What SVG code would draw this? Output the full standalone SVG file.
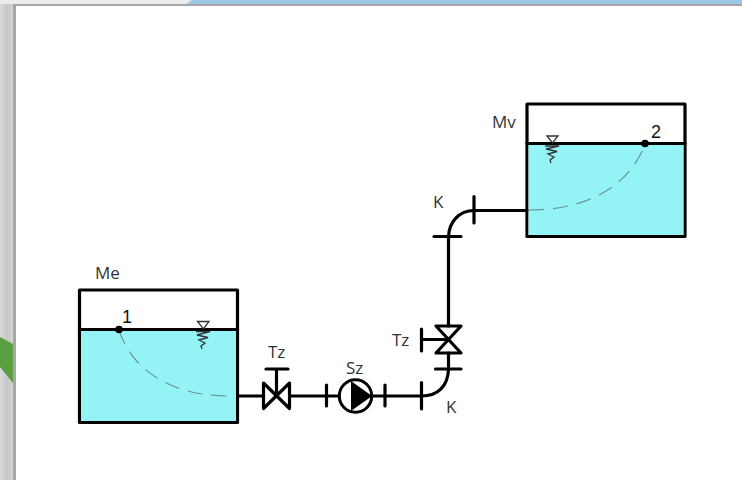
<svg xmlns="http://www.w3.org/2000/svg" width="742" height="480" viewBox="0 0 742 480">
<defs>
<style>
.ln{fill:none;stroke:#000;stroke-width:3.200;stroke-linecap:round;stroke-linejoin:round}
.tank{fill:#fff;stroke:#000;stroke-width:3.200;stroke-linejoin:round}
.water{fill:#94f3f5}
.dash{fill:none;stroke:#6f9499;stroke-width:1.200;stroke-dasharray:15 9}
.sym{fill:none;stroke:#333;stroke-width:1.300}
.t{font-family:"Open Sans","Liberation Sans",sans-serif;font-size:17px;fill:#333}
.n{font-family:"Liberation Sans",sans-serif;font-size:18px;fill:#111}
</style>
<linearGradient id="side" x1="0" y1="0" x2="1" y2="0"><stop offset="0" stop-color="#dadada"/><stop offset="0.5" stop-color="#c8c8c8"/><stop offset="1" stop-color="#d4d4d4"/></linearGradient>
</defs>
<g id="backdrop">
<rect x="0" y="0" width="742" height="480" fill="#fff"/>
<rect x="0" y="0" width="14" height="480" fill="url(#side)"/>
<rect x="0" y="0" width="742" height="4" fill="#ececec"/>
<polygon points="186,4 192,0 742,0 742,4" fill="#9cc9e6"/>
<polygon points="0,337 13,344 13,383 0,367" fill="#5aa040"/>
<rect x="13" y="4" width="729" height="2" fill="#a6a6a6"/>
<rect x="13" y="4" width="3" height="476" fill="#a6a6a6"/>
</g>
<g id="tank-me">
<rect class="tank" x="79.500" y="290" width="158" height="132.500"/>
<rect class="water" x="81" y="330" width="155" height="91"/>
<path class="ln" d="M79.500 329.500H237.500"/>
<path class="dash" d="M119 330C130 365 165 396 229 396"/>
<circle cx="119" cy="329.500" r="3.800" fill="#000"/>
<path class="sym" d="M197.500 321.500H209L203.500 329Z"/>
<path class="sym" d="M196 331.500H210L197 335L208 337.500L199 340L205 343L201 346L202 349"/>
<text class="t" x="95" y="279">Me</text>
<text class="n" x="122" y="322.500">1</text>
</g>
<g id="tank-mv">
<rect class="tank" x="527" y="104" width="158" height="132.500"/>
<rect class="water" x="528.500" y="144.500" width="155" height="90.500"/>
<path class="ln" d="M527 143.500H685"/>
<path class="dash" d="M529 210C595 210 632 180 645 144"/>
<circle cx="645" cy="143.500" r="3.800" fill="#000"/>
<path class="sym" d="M547 136H558L552.500 143Z"/>
<path class="sym" d="M545 146H559L546 149L557 151.500L548 154L554 157L550 160L551 163"/>
<text class="t" x="492" y="128">Mv</text>
<text class="n" x="651" y="137.500">2</text>
</g>
<g id="valve-1">
<path class="ln" d="M263.500 383L289.500 408.500V383L263.500 408.500Z"/>
<path class="ln" d="M276.500 395.500V369M266 369H288"/>
<text class="t" x="268" y="358">Tz</text>
</g>
<g id="pump">
<circle cx="355.500" cy="396" r="16.200" fill="#fff" stroke="#000" stroke-width="3"/>
<path d="M351 381L372 396L351 411Z" fill="#000"/>
<text class="t" x="346" y="373.500">Sz</text>
</g>
<g id="valve-2">
<path class="ln" d="M436 326H461L436 353H461Z"/>
<path class="ln" d="M448.500 339.500H421.500M421.500 329V351"/>
<text class="t" x="392" y="346">Tz</text>
</g>
<g id="elbow-1">
<path class="ln" d="M421.500 382.500V409M435.500 369H461"/>
<text class="t" x="446" y="412.500">K</text>
</g>
<g id="elbow-2">
<path class="ln" d="M434 236.500H461M474 196.500V223"/>
<text class="t" x="433" y="207.500">K</text>
</g>
<g id="connectors">
<path class="ln" d="M237.500 396H263.500M289.500 396H339M371.500 396H421.500C438 396 448 386 448.500 369V353M326.500 385V406M385 385V406M448.500 326V237C449 222 459 210.500 474 210.500H527"/>
</g>
</svg>
